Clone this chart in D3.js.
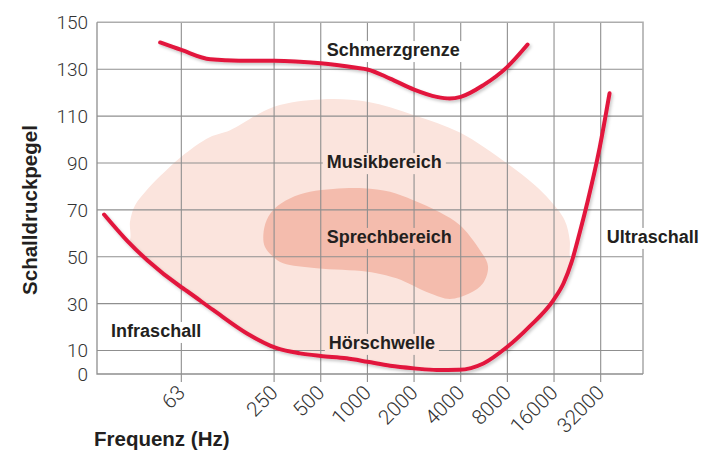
<!DOCTYPE html>
<html>
<head>
<meta charset="utf-8">
<script src="https://cdn.jsdelivr.net/npm/d3@7"></script>
<style>
  body { margin: 0; background: #fff; }
  svg { display: block; }
  .tick-label { font-family: Roboto, "Helvetica Neue", Arial, sans-serif; font-weight: 300; fill: #333; }
  .bold { font-family: "Helvetica Neue", Arial, "Liberation Sans", sans-serif; font-weight: bold; fill: #231f20; }
</style>
</head>
<body>
<div id="chart"></div>
<script>
// Frequenzachse (Hz) und Pegelachse (dB)
var freqTicks = [63, 250, 500, 1000, 2000, 4000, 8000, 16000, 32000];
var freqLabels = ["63", "250", "500", "1000", "2000", "4000", "8000", "16000", "32000"];
var dbTicks = [0, 10, 30, 50, 70, 90, 110, 130, 150];

// Kurven: [Frequenz, Pegel]
var hoerschwelle = [[20, 68], [28, 57], [38, 48.5], [63, 37], [68, 35.5], [101, 27.3], [166, 17.4], [260, 11],
    [367, 8.8], [500, 7.7], [734, 6.7], [1000, 5.2], [1400, 3.5], [2000, 2.4], [2800, 1.7], [3900, 1.8],
    [5600, 4.5], [8000, 11.6], [11100, 20.2], [15900, 31.6], [18460, 38.8], [20790, 47.8], [23400, 60.1],
    [26500, 74.2], [31500, 96.4], [36500, 119.7]];
var schmerzgrenze = [[46, 141.4], [63, 138.2], [97, 134.2], [150, 133.6], [250, 133.6], [500, 132.5], [850, 130.6],
    [1000, 129.9], [1400, 126], [2000, 121.3], [2800, 118.2], [3400, 117.5], [4000, 118.2],
    [5600, 123.2], [8000, 131], [10800, 140.5]];

// Flaechen (Umriss), Musikbereich wird unten von der Hoerschwelle abgeschnitten
var musikbereich = [[29.4, 57], [29.4, 65], [31.7, 72], [36.8, 77.6], [46, 84.4], [63, 92.7], [96, 101], [130, 104],
    [250, 114], [500, 117.1], [1000, 116.1], [2000, 110.4], [3950, 103], [7900, 90], [12000, 80.6], [15000, 74.2],
    [18700, 65.7], [20200, 57], [20200, 50.7], [21000, 42], [20000, 20], [1000, -5], [100, -5], [24, 45]];
var sprechbereich = [[213, 59.3], [224, 65.7], [253, 70.7], [316, 74.9], [426, 77.7], [600, 78.9], [940, 79.2],
    [1400, 77.7], [1960, 74.2], [2930, 69], [3940, 63.5], [5300, 53], [6000, 46], [5570, 38.7], [4570, 34.4],
    [3400, 32], [2530, 34.4], [1540, 40.8], [1000, 43.6], [470, 45.1], [286, 47.2], [247, 50], [218, 54.3]];

// Beschriftungen im Diagramm
var beschriftungen = [
    {text: "Schmerzgrenze", f: 547, db: 135.6, bg: "#fff"},
    {text: "Musikbereich", f: 547, db: 87.8, bg: "#fbe4dd"},
    {text: "Sprechbereich", f: 547, db: 55.9, bg: "#f4bcad"},
    {text: "Hörschwelle", f: 564, db: 10.7, bg: "#fbe4dd"},
    {text: "Infraschall", f: 22.2, db: 15.8, bg: "#fff"},
    {text: "Ultraschall", f: 34960, db: 55.9, bg: "#fff"}
];

var width = 703, height = 452;
var rot = "#e2173d", hell = "#fbe4dd", dunkel = "#f4bcad", grid = "#8f8f8f";

var svg = d3.select("#chart").append("svg")
    .attr("width", width).attr("height", height);

var x = d3.scaleLog().base(2).domain([18, 60000]).range([97, 643]);
var y = d3.scaleLinear().domain([0, 150]).range([374, 22.3]);

var defs = svg.append("defs");
var shadow = defs.append("filter").attr("id", "schatten")
    .attr("x", "-10%").attr("y", "-10%").attr("width", "130%").attr("height", "130%");
shadow.append("feDropShadow").attr("dx", 1.5).attr("dy", 2).attr("stdDeviation", 1.8)
    .attr("flood-color", "#000").attr("flood-opacity", 0.22);

var linie = d3.line().x(function(d){ return x(d[0]); }).y(function(d){ return y(d[1]); })
    .curve(d3.curveMonotoneX);
var umriss = d3.line().x(function(d){ return x(d[0]); }).y(function(d){ return y(d[1]); })
    .curve(d3.curveCatmullRomClosed.alpha(0.5));
var oberhalb = d3.area().x(function(d){ return x(d[0]); }).y0(y(160)).y1(function(d){ return y(d[1]); })
    .curve(d3.curveMonotoneX);

defs.append("clipPath").attr("id", "ueberSchwelle")
    .append("path").attr("d", oberhalb(hoerschwelle));

// Flaechen
svg.append("path").attr("d", umriss(musikbereich)).attr("fill", hell)
    .attr("clip-path", "url(#ueberSchwelle)");
svg.append("path").attr("d", umriss(sprechbereich)).attr("fill", dunkel);

// Gitter
var gitter = svg.append("g").attr("stroke", grid).attr("stroke-width", 1.1).attr("fill", "none");
gitter.selectAll("line.h").data(dbTicks.filter(function(d){ return d > 0 && d < 150; }))
    .enter().append("line")
    .attr("x1", x.range()[0]).attr("x2", x.range()[1])
    .attr("y1", function(d){ return y(d); }).attr("y2", function(d){ return y(d); });
gitter.selectAll("line.v").data(freqTicks)
    .enter().append("line")
    .attr("x1", function(d){ return x(d); }).attr("x2", function(d){ return x(d); })
    .attr("y1", y(150)).attr("y2", y(0) + 8);
// Rahmen oben/rechts etwas heller
svg.append("path")
    .attr("d", "M" + x.range()[0] + "," + y(150) + "H" + x.range()[1] + "V" + y(0))
    .attr("stroke", "#adadad").attr("stroke-width", 1.6).attr("fill", "none");
// Achsen links/unten
svg.append("path")
    .attr("d", "M" + x.range()[0] + "," + y(150) + "V" + y(0) + "H" + x.range()[1])
    .attr("stroke", grid).attr("stroke-width", 1.3).attr("fill", "none");

// Achsenbeschriftungen
svg.selectAll("text.ylab").data(dbTicks).enter().append("text")
    .attr("class", "tick-label")
    .attr("x", 88).attr("y", function(d){ return y(d); })
    .attr("dy", "0.36em").attr("text-anchor", "end")
    .style("font-size", "19px")
    .text(function(d){ return d; });

svg.selectAll("text.xlab").data(freqTicks).enter().append("text")
    .attr("class", "tick-label")
    .attr("transform", function(d){ return "translate(" + x(d) + "," + 389 + ") rotate(-45)"; })
    .attr("dy", 7).attr("text-anchor", "end")
    .style("font-size", "20.5px")
    .text(function(d, i){ return freqLabels[i]; });

svg.append("text").attr("class", "bold")
    .attr("transform", "translate(37,210) rotate(-90)")
    .attr("text-anchor", "middle")
    .style("font-size", "20.5px")
    .text("Schalldruckpegel");

svg.append("text").attr("class", "bold")
    .attr("x", 94).attr("y", 446)
    .style("font-size", "20.5px")
    .text("Frequenz (Hz)");

// Hintergrundkaesten der Beschriftungen
var boxes = svg.append("g");
var kurven = svg.append("g").attr("fill", "none").attr("stroke", rot)
    .attr("stroke-width", 4).attr("stroke-linecap", "round").attr("filter", "url(#schatten)");
kurven.append("path").attr("d", linie(hoerschwelle));
kurven.append("path").attr("d", linie(schmerzgrenze));

var labels = svg.append("g");
beschriftungen.forEach(function(b){
    var t = labels.append("text").attr("class", "bold")
        .attr("x", x(b.f)).attr("y", y(b.db))
        .style("font-size", "18px")
        .text(b.text);
    var bb = t.node().getBBox();
    boxes.append("rect")
        .attr("x", bb.x - 4).attr("y", bb.y + 1)
        .attr("width", bb.width + 8).attr("height", bb.height + 1)
        .attr("fill", b.bg);
});
</script>
</body>
</html>
